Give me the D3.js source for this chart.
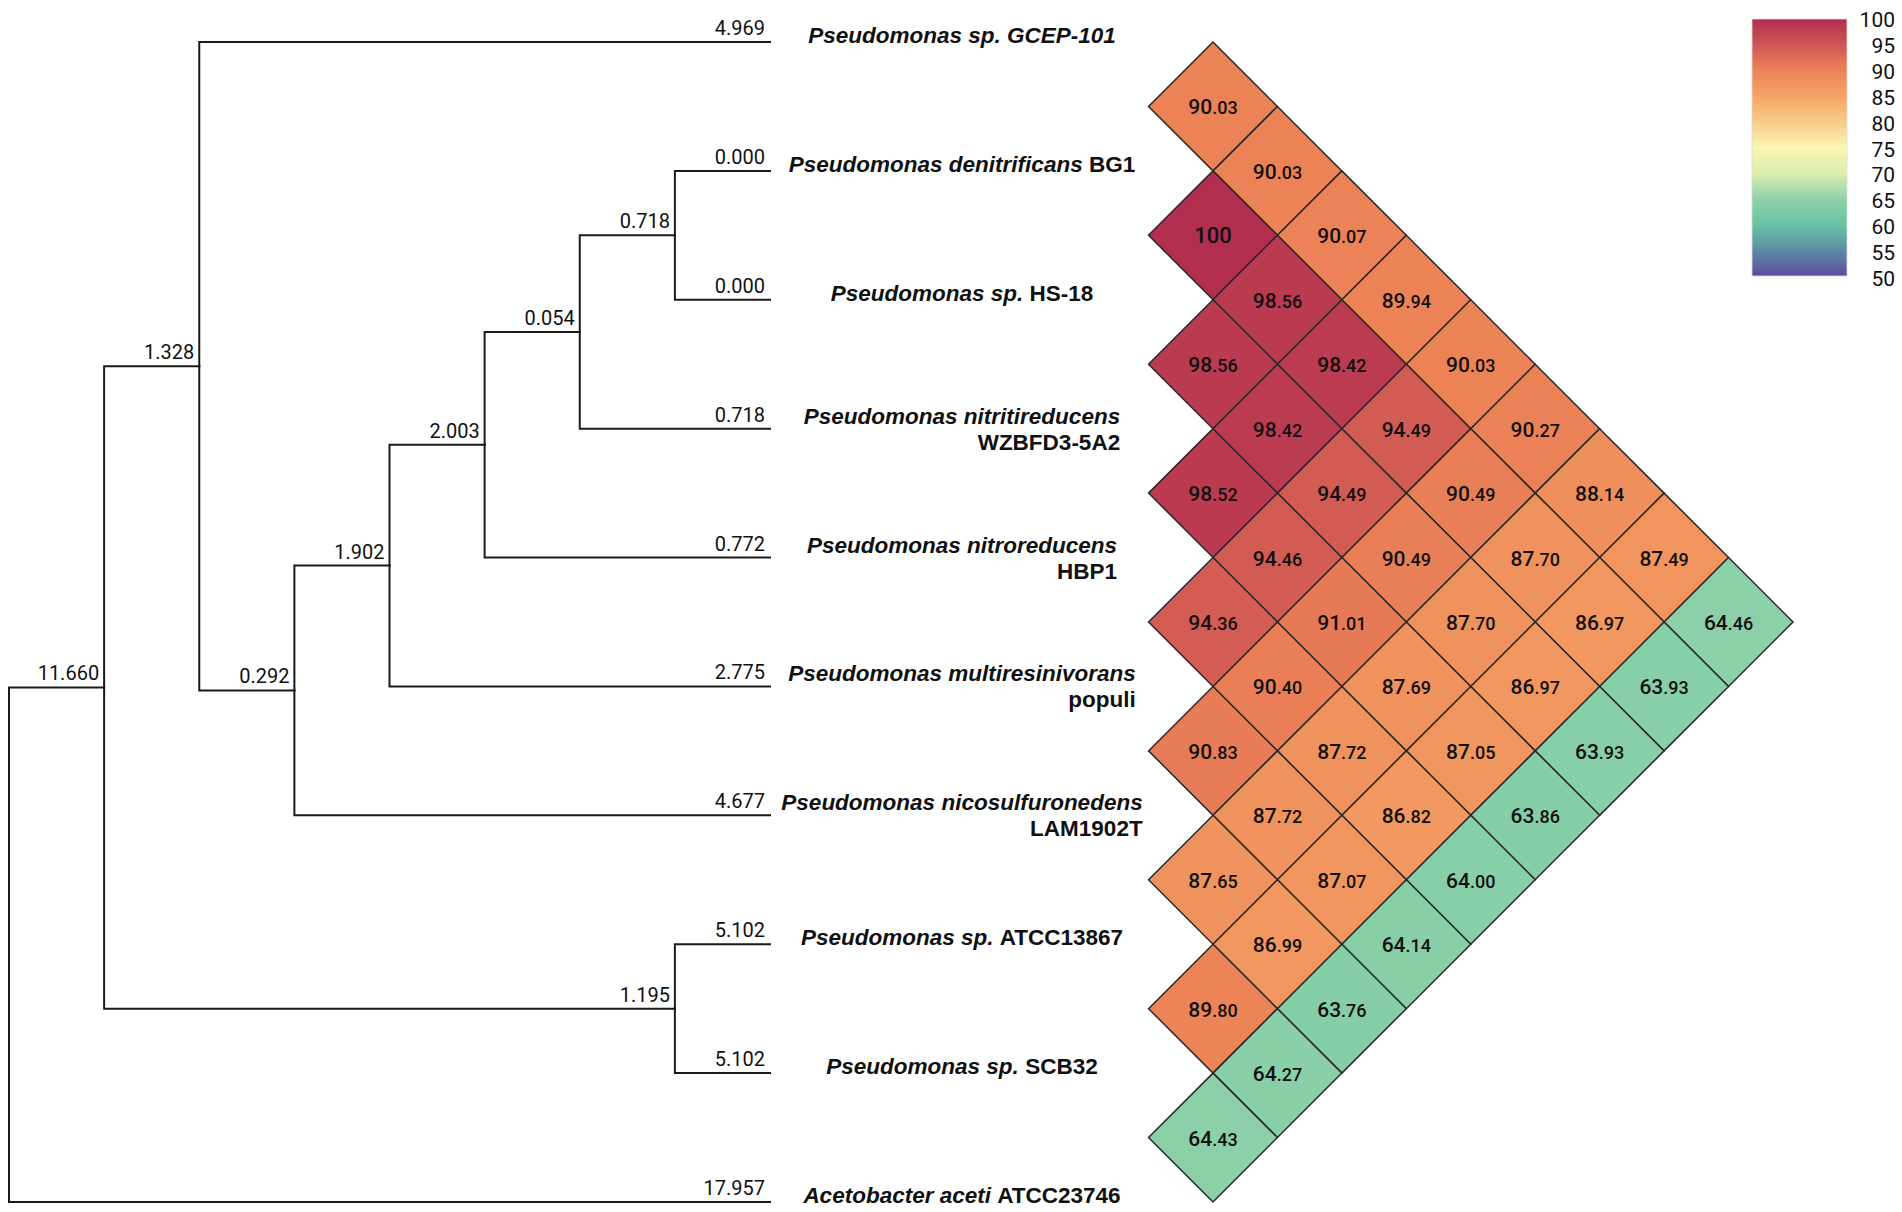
<!DOCTYPE html>
<html><head><meta charset="utf-8">
<script src="https://cdn.jsdelivr.net/npm/d3@7"></script>
<style>
html,body{margin:0;padding:0;background:#fff;}
svg{display:block;}
</style></head><body>
<svg id="chart" width="1902" height="1212"></svg>
<script>
// ---------------- data ----------------
const tipIds = ["GCEP","BG1","HS18","NITRI","NITRO","MULTI","NICO","ATCC","SCB32","ACETO"];

// each label: list of lines, each line: list of [text, italic]
const tipLabels = [
  [[["Pseudomonas sp. GCEP-101", true]]],
  [[["Pseudomonas denitrificans ", true], ["BG1", false]]],
  [[["Pseudomonas sp. ", true], ["HS-18", false]]],
  [[["Pseudomonas nitritireducens", true]], [["WZBFD3-5A2", false]]],
  [[["Pseudomonas nitroreducens", true]], [["HBP1", false]]],
  [[["Pseudomonas multiresinivorans", true]], [["populi", false]]],
  [[["Pseudomonas nicosulfuronedens", true]], [["LAM1902T", false]]],
  [[["Pseudomonas sp. ", true], ["ATCC13867", false]]],
  [[["Pseudomonas sp. ", true], ["SCB32", false]]],
  [[["Acetobacter aceti ", true], ["ATCC23746", false]]]
];

// tree topology with branch lengths
const treeData = {children: [
  {len: 11.660, children: [
    {len: 1.328, children: [
      {name: "GCEP", len: 4.969},
      {len: 0.292, children: [
        {len: 1.902, children: [
          {len: 2.003, children: [
            {len: 0.054, children: [
              {len: 0.718, children: [
                {name: "BG1", len: 0.000},
                {name: "HS18", len: 0.000}
              ]},
              {name: "NITRI", len: 0.718}
            ]},
            {name: "NITRO", len: 0.772}
          ]},
          {name: "MULTI", len: 2.775}
        ]},
        {name: "NICO", len: 4.677}
      ]}
    ]},
    {len: 1.195, children: [
      {name: "ATCC", len: 5.102},
      {name: "SCB32", len: 5.102}
    ]}
  ]},
  {name: "ACETO", len: 17.957}
]};

// ANI (%) upper triangle: row i holds values vs taxa j = i+1 .. 9
const aniRow0 = [90.03, 90.03, 90.07, 89.94, 90.03, 90.27, 88.14, 87.49, 64.46];
const aniRow1 = [100, 98.56, 98.42, 94.49, 90.49, 87.70, 86.97, 63.93];
const aniRow2 = [98.56, 98.42, 94.49, 90.49, 87.70, 86.97, 63.93];
const aniRow3 = [98.52, 94.46, 91.01, 87.69, 87.05, 63.86];
const aniRow4 = [94.36, 90.40, 87.72, 86.82, 64.00];
const aniRow5 = [90.83, 87.72, 87.07, 64.14];
const aniRow6 = [87.65, 86.99, 63.76];
const aniRow7 = [89.80, 64.27];
const aniRow8 = [64.43];
const aniRows = [aniRow0, aniRow1, aniRow2, aniRow3, aniRow4, aniRow5, aniRow6, aniRow7, aniRow8];

// colour legend
const legendTicks  = [100, 95, 90, 85, 80, 75, 70, 65, 60, 55, 50];
const legendColors = ["#b22e4e","#cf5653","#ec8357","#f5a465","#f8cb88","#fbf6b4",
                      "#dceeae","#8fd2a9","#68c2a5","#5e8ca6","#5a4d9e"];

// ---------------- layout ----------------
const svg = d3.select("#chart");
const fmt3 = d3.format(".3f");
const numFont = "Roboto, 'Liberation Sans', sans-serif";

const treeLeft = 9, treeRight = 770, tipTop = 42, tipBottom = 1202;
const labelCenter = 962;
const heatX0 = 1213;

const root = d3.hierarchy(treeData);
d3.cluster().nodeSize([1, 1]).separation(() => 1)(root);
const leaves = root.leaves();
const depthMax = d3.max(root.descendants(), d => d.y);
const xScale = d3.scaleLinear().domain([0, depthMax]).range([treeLeft, treeRight]);
const yScale = d3.scaleLinear()
  .domain([d3.min(leaves, d => d.x), d3.max(leaves, d => d.x)])
  .range([tipTop, tipBottom]);

const tipY = {};
leaves.forEach(l => tipY[l.data.name] = yScale(l.x));

// ---- tree branches
const gTree = svg.append("g");
gTree.selectAll("path.branch")
  .data(root.descendants().filter(d => d.parent))
  .join("path")
  .attr("fill", "none").attr("stroke", "#1a1a1a").attr("stroke-width", 2)
  .attr("stroke-linecap", "square")
  .attr("d", d => {
    const px = xScale(d.parent.y), py = yScale(d.parent.x);
    const nx = xScale(d.y), ny = yScale(d.x);
    return `M${px},${py}V${ny}H${nx}`;
  });

gTree.selectAll("text.blen")
  .data(root.descendants().filter(d => d.parent))
  .join("text")
  .attr("x", d => xScale(d.y) - 5)
  .attr("y", d => yScale(d.x) - 7)
  .attr("text-anchor", "end")
  .attr("font-family", numFont)
  .attr("font-size", 20)
  .attr("fill", "#111")
  .text(d => fmt3(d.data.len));

// ---- tip labels
const gLab = svg.append("g")
  .attr("font-family", "'Liberation Sans', Arial, sans-serif")
  .attr("font-weight", "bold").attr("font-size", 22.5).attr("fill", "#111");

tipIds.forEach((id, i) => {
  const lines = tipLabels[i];
  const y = tipY[id];
  if (lines.length === 1) {
    const t = gLab.append("text").attr("x", labelCenter).attr("y", y + 1).attr("text-anchor", "middle");
    lines[0].forEach(s => t.append("tspan").attr("font-style", s[1] ? "italic" : "normal").text(s[0]));
  } else {
    const t1 = gLab.append("text").attr("x", labelCenter).attr("y", y - 5).attr("text-anchor", "middle");
    lines[0].forEach(s => t1.append("tspan").attr("font-style", s[1] ? "italic" : "normal").text(s[0]));
    const w = t1.node().getComputedTextLength();
    const t2 = gLab.append("text").attr("x", labelCenter + w / 2).attr("y", y + 21).attr("text-anchor", "end");
    lines[1].forEach(s => t2.append("tspan").attr("font-style", s[1] ? "italic" : "normal").text(s[0]));
  }
});

// ---- heatmap (rotated triangle)
const half = (tipBottom - tipTop) / (tipIds.length - 1) / 2;
const colX = d3.scaleLinear().domain([0, 1]).range([heatX0, heatX0 + half]);
const color = d3.scaleLinear().domain(legendTicks).range(legendColors).interpolate(d3.interpolateRgb);

const cells = [];
aniRows.forEach((row, i) => row.forEach((v, k) => {
  const j = i + 1 + k;
  cells.push({i, j, v, col: j - i - 1});
}));

const gHeat = svg.append("g");
const cg = gHeat.selectAll("g.cell").data(cells).join("g")
  .attr("transform", d => `translate(${colX(d.col)},${(tipY[tipIds[d.i]] + tipY[tipIds[d.j]]) / 2})`);
cg.append("path")
  .attr("d", `M0,${-half}L${half},0L0,${half}L${-half},0Z`)
  .attr("fill", d => color(d.v))
  .attr("stroke", "#2a2a2a").attr("stroke-width", 1.5).attr("stroke-linejoin", "miter");
const ct = cg.append("text")
  .attr("y", 8).attr("text-anchor", "middle")
  .attr("font-family", numFont).attr("font-weight", 500)
  .attr("fill", "#111");
ct.each(function(d) {
  const t = d3.select(this);
  if (d.v === 100) {
    t.append("tspan").attr("font-size", 22).text("100");
  } else {
    const s = d.v.toFixed(2).split(".");
    t.append("tspan").attr("font-size", 21).text(s[0]);
    t.append("tspan").attr("font-size", 18).text("." + s[1]);
  }
});

// ---- colour legend
const legY = d3.scaleLinear().domain([50, 100]).range([279, 20]);
const defs = svg.append("defs");
const grad = defs.append("linearGradient").attr("id", "lg")
  .attr("x1", 0).attr("y1", 1).attr("x2", 0).attr("y2", 0);
grad.selectAll("stop").data(legendTicks.slice().sort((a, b) => a - b)).join("stop")
  .attr("offset", d => (d - 50) / 50)
  .attr("stop-color", d => color(d));
svg.append("rect")
  .attr("x", 1752).attr("y", legY(100) - 1)
  .attr("width", 95).attr("height", legY(50) - legY(100) - 2)
  .attr("fill", "url(#lg)").attr("stroke", "#ddd").attr("stroke-width", 0.8);
svg.append("g").selectAll("text").data(legendTicks).join("text")
  .attr("x", 1895).attr("y", d => legY(d) + 7)
  .attr("text-anchor", "end")
  .attr("font-family", numFont)
  .attr("font-size", 21).attr("fill", "#111")
  .text(d => d);
</script>
</body></html>
